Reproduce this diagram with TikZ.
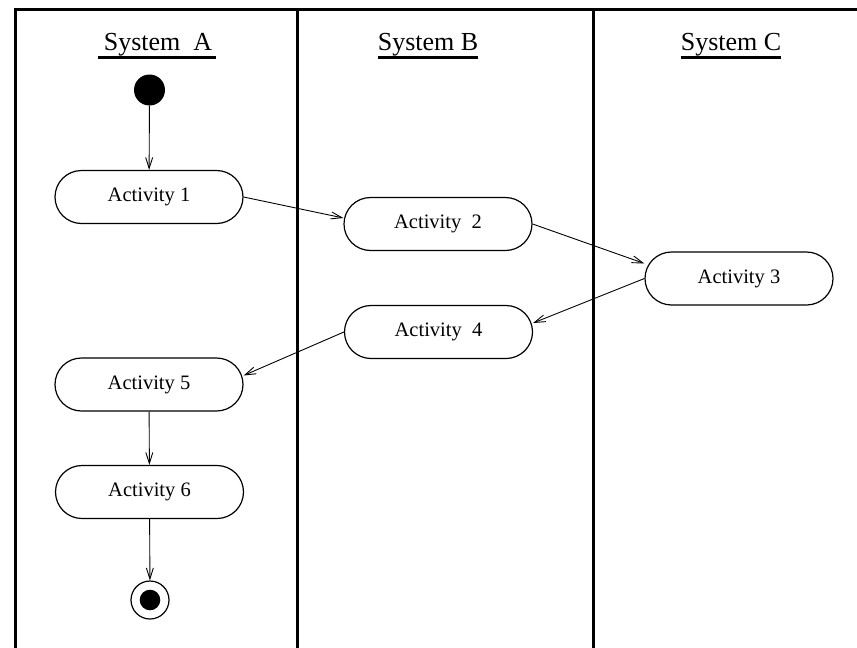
\documentclass[tikz,border=0pt]{standalone}
\usepackage{fontspec}
\setmainfont{Liberation Serif}
\usetikzlibrary{arrows.meta}
\begin{document}
\begin{tikzpicture}[x=1pt,y=-1pt,
  act/.style={draw,line width=1.2pt,rectangle,rounded corners=26.5pt,minimum width=188pt,minimum height=53pt,inner sep=0pt,font=\fontsize{20.5}{24}\selectfont},
  hdr/.style={inner sep=0pt,anchor=base,font=\fontsize{26}{30}\selectfont},
  flow/.style={line width=0.9pt,-{Straight Barb[length=11pt,width=7pt,line width=0.9pt]}},
  frame/.style={line width=2.6pt},
  uline/.style={line width=2.6pt}]
\useasboundingbox (0,0) rectangle (857,648);
\fill[white] (0,0) rectangle (857,648);
% frame and swimlanes
\draw[frame] (15.3,650) -- (15.3,9.7) -- (859,9.7);
\draw[frame] (297.3,9.7) -- (297.3,650);
\draw[frame] (593.3,9.7) -- (593.3,650);
% headers
\node[hdr] (hA) at (158,50) {System\ \ A};
\node[hdr] (hB) at (428,50) {System B};
\node[hdr] (hC) at (731,50) {System C};
\draw[uline] ([xshift=-6pt,yshift=-7.5pt]hA.base west) -- ([xshift=4pt,yshift=-7.5pt]hA.base east);
\draw[uline] ([yshift=-7.5pt]hB.base west) -- ([yshift=-7.5pt]hB.base east);
\draw[uline] ([yshift=-7.5pt]hC.base west) -- ([yshift=-7.5pt]hC.base east);
% start and end
\node[circle,fill=black,inner sep=0pt,minimum size=31pt] (start) at (149.5,90) {};
\node[circle,draw,line width=1.2pt,inner sep=0pt,minimum size=38pt] (end) at (150,600) {};
\node[circle,fill=black,inner sep=0pt,minimum size=20.6pt] (endin) at (150,600) {};
% activities
\node[act] (A1) at (149,197) {Activity 1};
\node[act] (A2) at (438,224) {Activity\ \ 2};
\node[act] (A3) at (739,278.5) {Activity 3};
\node[act] (A4) at (438.5,332) {Activity\ \ 4};
\node[act] (A5) at (149,384.5) {Activity 5};
\node[act] (A6) at (149.5,492) {Activity 6};
% flows
\draw[flow] (start) -- (A1);
\draw[flow] (A1.east) -- ([yshift=6pt]A2.west);
\draw[flow] (A2.east) -- ([yshift=15pt]A3.west);
\draw[flow] (A3.west) -- ([yshift=9pt]A4.east);
\draw[flow] (A4.west) -- ([yshift=9pt]A5.east);
\draw[flow] (A5) -- (A6);
\draw[flow] (A6) -- (end);
\end{tikzpicture}
\end{document}
